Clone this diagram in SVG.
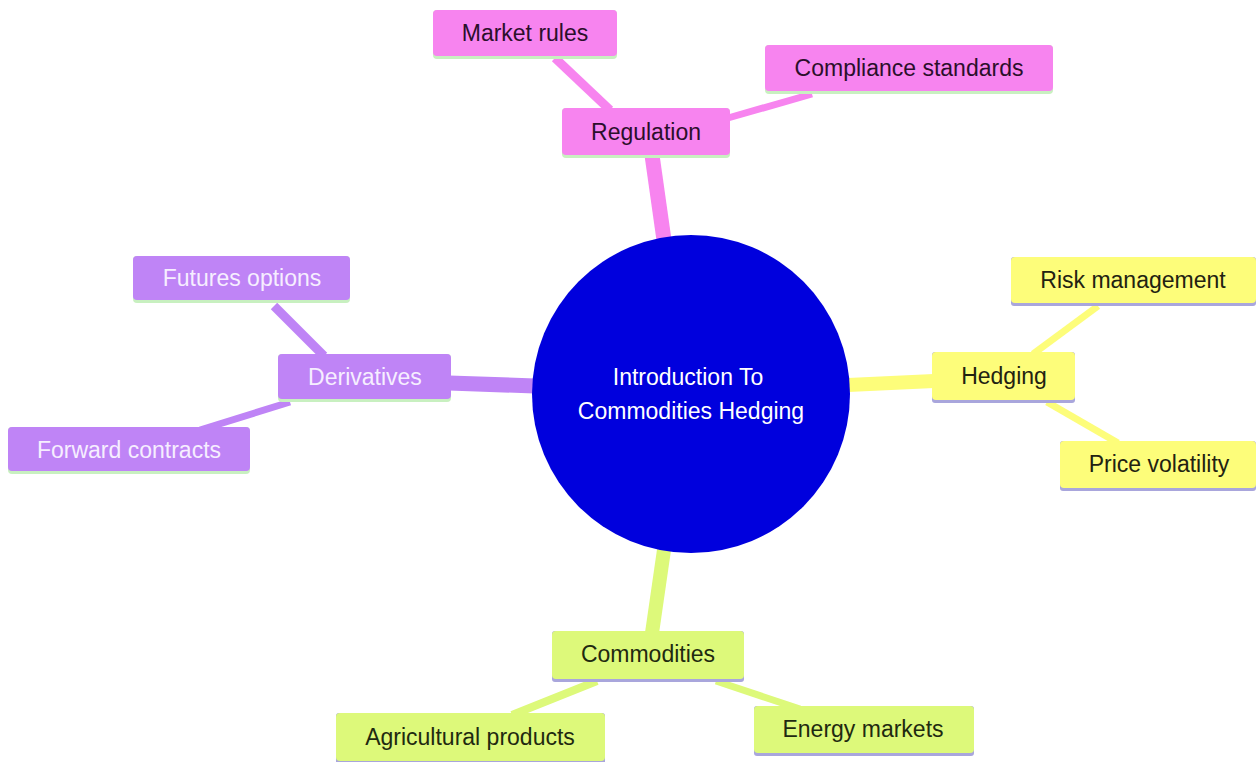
<svg xmlns="http://www.w3.org/2000/svg" width="1256" height="762" viewBox="0 0 1256 762">
<style>
text{font-family:"Liberation Sans",Arial,sans-serif;font-size:23px;text-anchor:middle;dominant-baseline:central}
.pk{fill:#f784ef}.pu{fill:#bf84f6}.ye{fill:#fdfd7a}.gr{fill:#ddf97a}
.e{fill:none;stroke-linecap:butt}
.epk{stroke:#f784ef}.epu{stroke:#bf84f6}.eye{stroke:#fdfd7a}.egr{stroke:#ddf97a}
.tpk{fill:#2b0f2b}.tpu{fill:#f6eeff}.tye{fill:#222211}.tgr{fill:#1f2a10}
.lg{fill:#c8f0c0}.lv{fill:#a9a6dc}
</style>
<rect width="1256" height="762" fill="#ffffff"/>
<g id="connectors">
<line class="e epk" x1="664" y1="240" x2="652" y2="155" stroke-width="15"/>
<line class="e epk" x1="610" y1="110" x2="555" y2="58" stroke-width="9"/>
<line class="e epk" x1="728" y1="118" x2="812" y2="94" stroke-width="7"/>
<line class="e epu" x1="535" y1="386" x2="449" y2="383" stroke-width="15"/>
<line class="e epu" x1="324" y1="356" x2="274" y2="306" stroke-width="9"/>
<line class="e epu" x1="290" y1="402" x2="200" y2="430" stroke-width="7"/>
<line class="e eye" x1="848" y1="385" x2="934" y2="381" stroke-width="14"/>
<line class="e eye" x1="1033" y1="354" x2="1098" y2="306" stroke-width="7"/>
<line class="e eye" x1="1047" y1="402" x2="1118" y2="443" stroke-width="7"/>
<line class="e egr" x1="664" y1="550" x2="652" y2="633" stroke-width="14"/>
<line class="e egr" x1="597" y1="681" x2="512" y2="715" stroke-width="8"/>
<line class="e egr" x1="716" y1="681" x2="800" y2="709" stroke-width="7"/>
</g>
<g id="root">
<circle cx="691" cy="394" r="159" fill="#0000dd"/>
<text x="688" y="377" fill="#ffffff">Introduction To</text>
<text x="691" y="411" fill="#ffffff">Commodities Hedging</text>
</g>
<g id="regulation">
<rect class="lg" x="562" y="108" width="168" height="50" rx="4"/>
<rect class="pk" x="562" y="108" width="168" height="47" rx="4"/>
<text class="tpk" x="646" y="132">Regulation</text>
</g>
<g id="market-rules">
<rect class="lg" x="433" y="10" width="184" height="49" rx="4"/>
<rect class="pk" x="433" y="10" width="184" height="46" rx="4"/>
<text class="tpk" x="525" y="33">Market rules</text>
</g>
<g id="compliance-standards">
<rect class="lg" x="765" y="45" width="288" height="49" rx="4"/>
<rect class="pk" x="765" y="45" width="288" height="46" rx="4"/>
<text class="tpk" x="909" y="68">Compliance standards</text>
</g>
<g id="derivatives">
<rect class="lg" x="278" y="354" width="173" height="48" rx="4"/>
<rect class="pu" x="278" y="354" width="173" height="45" rx="4"/>
<text class="tpu" x="365" y="377">Derivatives</text>
</g>
<g id="futures-options">
<rect class="lg" x="133" y="256" width="217" height="47" rx="4"/>
<rect class="pu" x="133" y="256" width="217" height="44" rx="4"/>
<text class="tpu" x="242" y="278">Futures options</text>
</g>
<g id="forward-contracts">
<rect class="lg" x="8" y="427" width="242" height="47" rx="4"/>
<rect class="pu" x="8" y="427" width="242" height="44" rx="4"/>
<text class="tpu" x="129" y="450">Forward contracts</text>
</g>
<g id="hedging">
<rect class="lv" x="932" y="352" width="143" height="51" rx="3"/>
<rect class="ye" x="932" y="352" width="143" height="48" rx="4"/>
<text class="tye" x="1004" y="376">Hedging</text>
</g>
<g id="risk-management">
<rect class="lv" x="1011" y="257" width="245" height="49" rx="3"/>
<rect class="ye" x="1011" y="257" width="245" height="46" rx="4"/>
<text class="tye" x="1133" y="280">Risk management</text>
</g>
<g id="price-volatility">
<rect class="lv" x="1060" y="441" width="196" height="50" rx="3"/>
<rect class="ye" x="1060" y="441" width="196" height="47" rx="4"/>
<text class="tye" x="1159" y="464">Price volatility</text>
</g>
<g id="commodities">
<rect class="lv" x="552" y="631" width="192" height="51" rx="3"/>
<rect class="gr" x="552" y="631" width="192" height="48" rx="4"/>
<text class="tgr" x="648" y="654">Commodities</text>
</g>
<g id="agricultural-products">
<rect class="lv" x="336" y="713" width="269" height="51" rx="3"/>
<rect class="gr" x="336" y="713" width="269" height="48" rx="4"/>
<text class="tgr" x="470" y="737">Agricultural products</text>
</g>
<g id="energy-markets">
<rect class="lv" x="754" y="706" width="220" height="50" rx="3"/>
<rect class="gr" x="754" y="706" width="220" height="47" rx="4"/>
<text class="tgr" x="863" y="729">Energy markets</text>
</g>
</svg>
